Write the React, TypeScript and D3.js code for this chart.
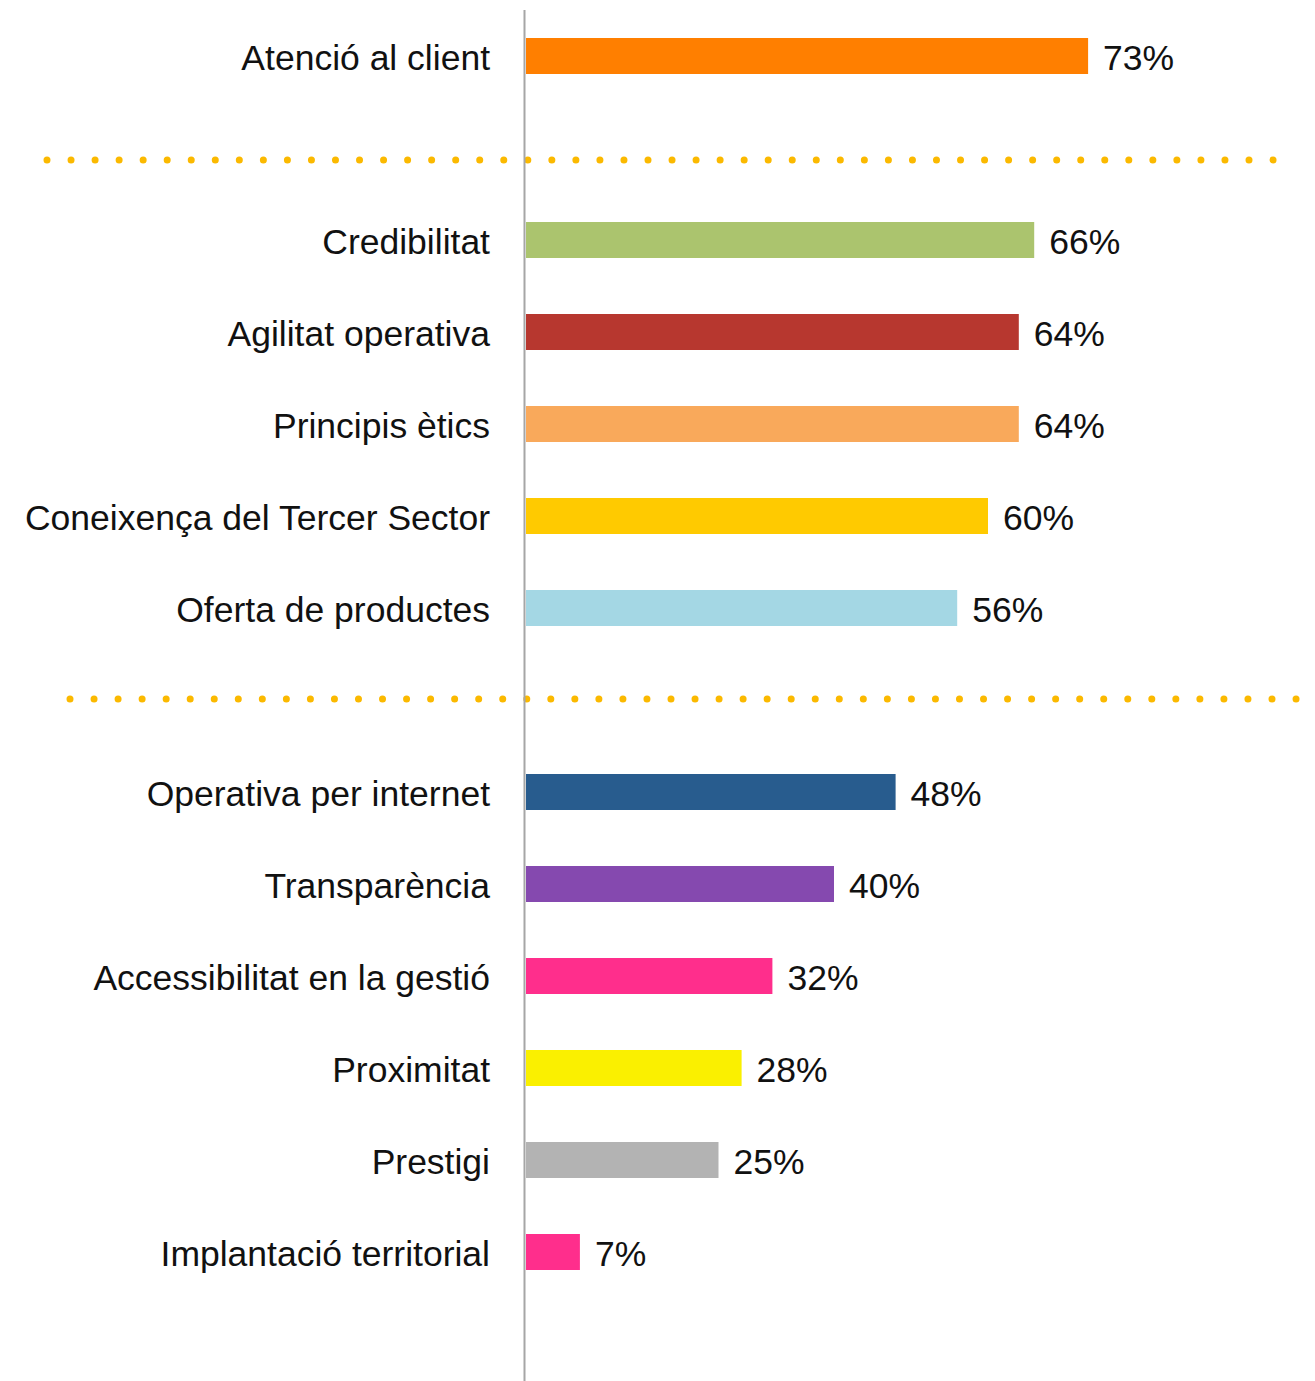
import React, { useEffect, useRef } from 'react';
import * as d3 from 'd3';

// row keys, separators take a slot of their own
const rows = [
  'Atenció al client',
  'sep1',
  'Credibilitat',
  'Agilitat operativa',
  'Principis ètics',
  'Coneixença del Tercer Sector',
  'Oferta de productes',
  'sep2',
  'Operativa per internet',
  'Transparència',
  'Accessibilitat en la gestió',
  'Proximitat',
  'Prestigi',
  'Implantació territorial',
];

const categories = rows.filter(r => !r.startsWith('sep'));
const values = [73, 66, 64, 64, 60, 56, 48, 40, 32, 28, 25, 7];
const colors = [
  '#FF7F00', '#ABC46E', '#B7372F', '#F9A95B', '#FFCA00', '#A4D7E4',
  '#285C8E', '#8549AF', '#FF2E8C', '#FAF000', '#B3B3B3', '#FF2E8C',
];
const separators = ['sep1', 'sep2'];

const W = 1315;
const H = 1381;
const FONT = '"Liberation Sans", Arial, sans-serif';

const App = () => {
  const ref = useRef<SVGSVGElement | null>(null);

  useEffect(() => {
    document.body.style.margin = '0';
    const svg = d3.select(ref.current);
    svg.selectAll('*').remove();

    const x = d3.scaleLinear().domain([0, 100]).range([526, 1296]);
    const y = d3.scalePoint<string>().domain(rows).range([56, 56 + 92 * (rows.length - 1)]);
    const barH = 36;

    const data = categories.map((c, i) => ({ name: c, value: values[i], color: colors[i] }));

    // dotted separators: [x1, x2, dy]
    const sepSpan: Record<string, [number, number, number]> = {
      sep1: [47, 1276, 12],
      sep2: [70, 1300, -1],
    };
    svg.append('g')
      .selectAll('line')
      .data(separators)
      .join('line')
      .attr('x1', d => sepSpan[d][0])
      .attr('x2', d => sepSpan[d][1])
      .attr('y1', d => (y(d) as number) + sepSpan[d][2])
      .attr('y2', d => (y(d) as number) + sepSpan[d][2])
      .attr('stroke', '#FBB900')
      .attr('stroke-width', 7)
      .attr('stroke-linecap', 'round')
      .attr('stroke-dasharray', '0 24.04');

    // bars
    svg.append('g')
      .selectAll('rect')
      .data(data)
      .join('rect')
      .attr('x', x(0))
      .attr('y', d => (y(d.name) as number) - barH / 2)
      .attr('width', d => x(d.value) - x(0))
      .attr('height', barH)
      .attr('fill', d => d.color);

    // category labels
    svg.append('g')
      .selectAll('text')
      .data(data)
      .join('text')
      .attr('x', 490)
      .attr('y', d => (y(d.name) as number) + 14)
      .attr('text-anchor', 'end')
      .attr('font-family', FONT)
      .attr('font-size', 35.5)
      .attr('fill', '#111')
      .text(d => d.name);

    // value labels
    svg.append('g')
      .selectAll('text')
      .data(data)
      .join('text')
      .attr('x', d => x(d.value) + 15)
      .attr('y', d => (y(d.name) as number) + 14)
      .attr('font-family', FONT)
      .attr('font-size', 35.5)
      .attr('fill', '#111')
      .text(d => `${d.value}%`);

    // vertical axis line
    svg.append('line')
      .attr('x1', 524.5)
      .attr('x2', 524.5)
      .attr('y1', 10)
      .attr('y2', H)
      .attr('stroke', '#A6A6A6')
      .attr('stroke-width', 2);
  }, []);

  return <svg ref={ref} width={W} height={H} style={{ display: 'block', background: '#fff' }} />;
};

export default App;
